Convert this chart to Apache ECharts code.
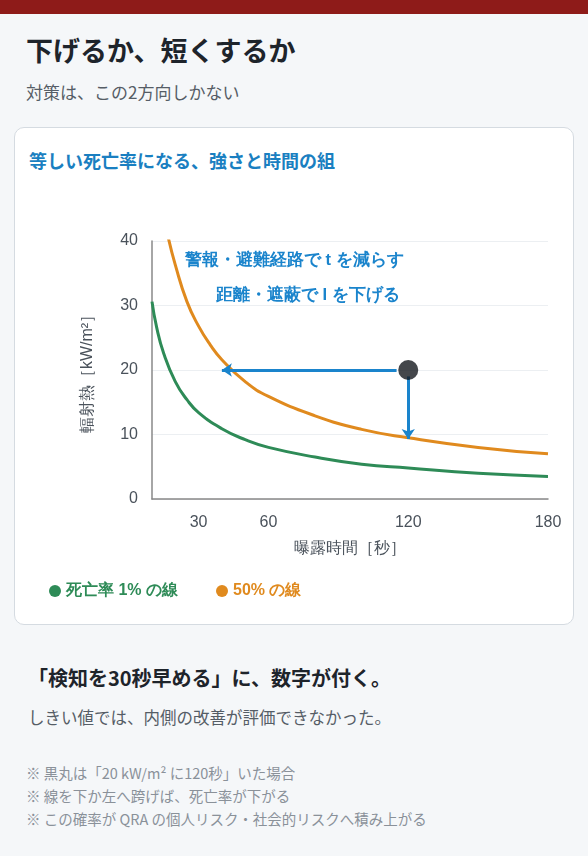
<!DOCTYPE html>
<html><head><meta charset="utf-8">
<script src="https://cdn.jsdelivr.net/npm/echarts@6/dist/echarts.min.js"></script>
<style>
body{margin:0;width:588px;height:856px;background:#f5f7f9;font-family:"Noto Sans CJK JP","Noto Sans",sans-serif;position:relative;overflow:hidden}
.bar{position:absolute;left:0;top:0;width:588px;height:14px;background:#8e1b19}
.t{position:absolute;white-space:nowrap}
.card{position:absolute;left:14px;top:127px;width:558px;height:496px;background:#fff;border:1px solid #d5dbe1;border-radius:10px}
#c{position:absolute;left:0;top:0;width:588px;height:856px}
</style></head><body>
<div class="bar"></div>
<div class="t" style="left:26px;top:30px;font-size:27px;font-weight:bold;color:#1e242b">下げるか、短くするか</div>
<div class="t" style="left:26px;top:79px;font-size:17px;color:#555d66">対策は、この2方向しかない</div>
<div class="card"></div>
<div class="t" style="left:29px;top:147px;font-size:18px;font-weight:bold;color:#1a7fc1">等しい死亡率になる、強さと時間の組</div>
<div class="t" style="left:28px;top:663px;font-size:20px;font-weight:bold;color:#1e242b">「検知を30秒早める」に、数字が付く。</div>
<div class="t" style="left:28px;top:705px;font-size:16.5px;color:#555d66">しきい値では、内側の改善が評価できなかった。</div>
<div class="t" style="left:26px;top:761px;font-size:14.5px;line-height:23px;color:#8a9199">※ 黒丸は「20 kW/m² に120秒」いた場合<br>※ 線を下か左へ跨げば、死亡率が下がる<br>※ この確率が QRA の個人リスク・社会的リスクへ積み上がる</div>
<div id="c"></div>
<script>
const xTicks=[30,60,120,180];
const green=[[10,30.6],[12,26.6],[15,22.6],[20,18.2],[25,15.4],[30,13.4],[40,10.9],[50,9.2],[60,8.0],[80,6.5],[100,5.4],[120,4.8],[150,4.0],[180,3.5]];
const orange=[[17,40.5],[20,36.3],[25,30.6],[30,26.8],[35,23.9],[40,21.6],[50,18.2],[60,15.9],[80,12.9],[100,10.8],[120,9.5],[150,8.0],[180,7.0]];
const point=[[120,20]];
const arrowH=[[115,20],[40,20]];
const arrowV=[[120,19],[120,9.3]];
const ch=echarts.init(document.getElementById('c'));
const blue='#1a84cc';
ch.setOption({
 animation:false,
 grid:{left:152,top:241,right:40,bottom:357,containLabel:false},
 legend:{left:44,top:578,itemWidth:12,itemHeight:12,itemGap:38,icon:'circle',
   textStyle:{fontSize:16,fontWeight:'bold',color:'inherit'},data:['死亡率 1% の線','50% の線']},
 xAxis:{type:'value',min:10,max:180,name:'曝露時間［秒］',nameLocation:'middle',nameGap:42,
   nameTextStyle:{fontSize:16,color:'#4a525b'},
   axisLine:{lineStyle:{color:'#888',width:1.5}},splitLine:{show:false},
   axisTick:{show:false},
   axisLabel:{customValues:xTicks,fontSize:16,color:'#4a525b',margin:16}},
 yAxis:{type:'value',min:0,max:40,interval:10,name:'輻射熱［kW/m²］',nameLocation:'middle',nameGap:56,
   nameTextStyle:{fontSize:16,color:'#4a525b'},
   axisLine:{show:true,lineStyle:{color:'#888',width:1.5}},axisTick:{show:false},
   splitLine:{lineStyle:{color:'#eceff2'}},axisLabel:{fontSize:16,color:'#4a525b',margin:14}},
 series:[
  {name:'死亡率 1% の線',type:'line',data:green,smooth:true,symbol:'none',lineStyle:{width:3,color:'#2e8b57'},itemStyle:{color:'#2e8b57'}},
  {name:'50% の線',type:'line',data:orange,smooth:true,symbol:'none',lineStyle:{width:3,color:'#e08a1e'},itemStyle:{color:'#e08a1e'}},
  {type:'scatter',data:point,symbolSize:20,itemStyle:{color:'#15191e'},z:5,
   markLine:{silent:true,symbol:['none','arrow'],symbolSize:10,label:{show:false},
    lineStyle:{color:blue,width:3,type:'solid'},
    data:[[{coord:arrowH[0]},{coord:arrowH[1]}],[{coord:arrowV[0]},{coord:arrowV[1]}]]}}
 ],
 graphic:[
  {type:'text',left:185,top:252,style:{text:'警報・避難経路で t を減らす',fontSize:16.5,fontWeight:'bold',fill:blue}},
  {type:'text',left:216,top:287,style:{text:'距離・遮蔽で I を下げる',fontSize:16.5,fontWeight:'bold',fill:blue}}
 ]
});
</script></body></html>
